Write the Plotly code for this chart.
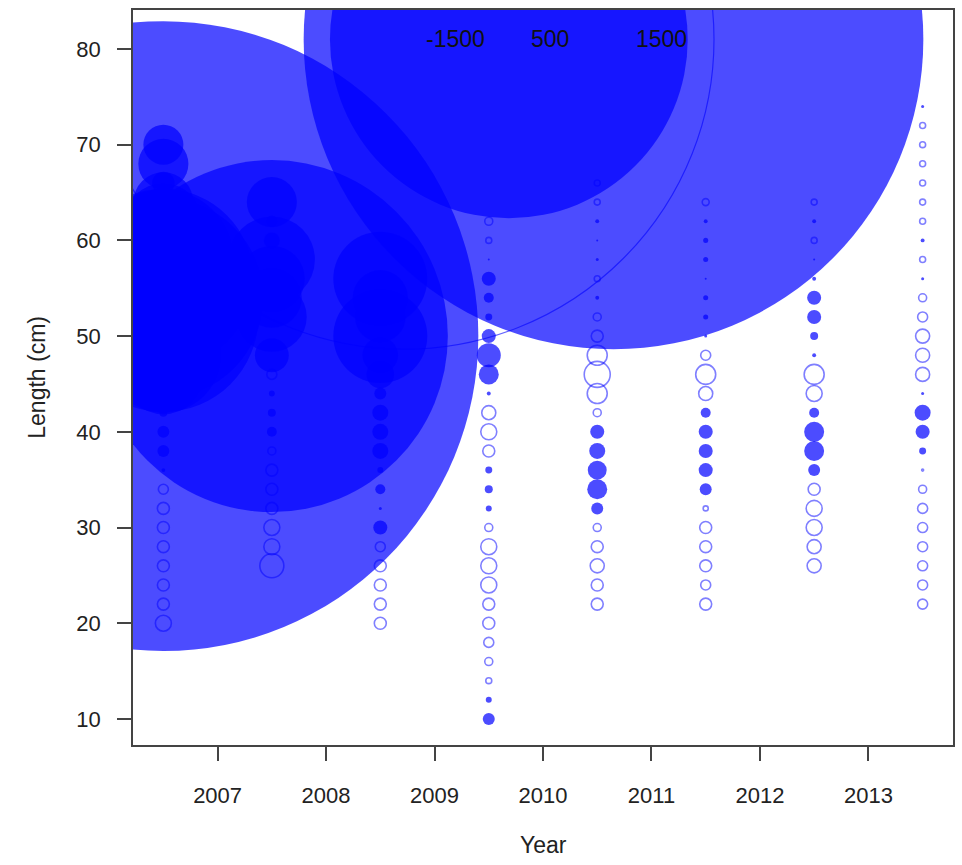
import numpy as np
import plotly.graph_objects as go

# Survey years (plotted at mid-year) and the first length bin sampled in each year
years = [2006.5, 2007.5, 2008.5, 2009.5, 2010.5, 2011.5, 2012.5, 2013.5]
first_length = [20, 26, 20, 10, 22, 22, 26, 22]
bin_width = 2

# Residuals by length bin (ascending length, one bin every 2 cm)
res_2006 = [-1.0, -0.56, -0.56, -0.56, -0.56, -0.56, -0.56, -0.39, 0.06, 0.56, 0.56, 0.25, -1.5,
            25, 52, 1550, 141, 156, 126, 77, 39, 22.6, 14, 2.0, 9.8, 6.25]
res_2007 = [-2.25, -1.0, -1.0, -0.56, -0.56, -0.56, -0.25, 0.39, 0.25, 0.14, -0.39, 4.5,
            484, 19, 14, 17, 29, 1.0, 0.5, 9.8]
res_2008 = [-0.56, -0.56, -0.56, -0.56, -0.39, 0.77, 0.035, 0.39, 0.14, 1.0, 1.0, 1.0, 0.56,
            3.0, 5.0, 34.5, 10, 12, 34.5]
res_2009 = [0.56, 0.14, -0.14, -0.25, -0.39, -0.56, -0.56, -1.0, -1.0, -1.0, -0.25, 0.14, 0.25,
            0.19, -0.56, -1.0, -0.77, 0.06, 1.56, 2.25, 0.77, 0.19, 0.39, 0.77, 0.016, -0.14, -0.25]
res_2010 = [-0.56, -0.56, -0.77, -0.56, -0.25, 0.56, 1.56, 1.4, 1.0, 0.77, -0.25, -1.56, -2.64,
            -1.56, -0.56, -0.25, 0.06, -0.14, 0.035, 0.016, 0.06, -0.14, -0.14]
res_2011 = [-0.56, -0.39, -0.56, -0.56, -0.56, -0.1, 0.56, 0.77, 0.77, 0.77, 0.39, -0.77, -1.56,
            -0.39, 0.035, 0.1, 0.1, 0.016, 0.1, 0.1, 0.06, -0.19]
res_2012 = [-0.77, -0.77, -1.0, -1.0, -0.56, 0.56, 1.56, 1.56, 0.39, -1.0, -1.56, 0.06, 0.25,
            0.77, 0.77, 0.06, 0.016, -0.14, 0.06, -0.14]
res_2013 = [-0.39, -0.39, -0.39, -0.39, -0.39, -0.39, -0.25, -0.016, 0.19, 0.77, 1.0, 0.035,
            -0.77, -0.77, -0.77, -0.39, -0.25, 0.035, -0.14, 0.06, -0.14, -0.14, -0.14, -0.14,
            -0.14, -0.14, 0.035]
residuals = [res_2006, res_2007, res_2008, res_2009, res_2010, res_2011, res_2012, res_2013]

# Bubble legend keys
legend_values = [-1500, 500, 1500]
legend_labels = ["-1500", "500", "1500"]

x_ticks = [2007, 2008, 2009, 2010, 2011, 2012, 2013]
y_ticks = [10, 20, 30, 40, 50, 60, 70, 80]

BUBBLE_PX = 16.0  # diameter in px per sqrt(|residual|)
FILL = "rgba(0,0,255,0.70)"
RING = "rgba(0,0,255,0.50)"
FONT = "Liberation Sans, Arial, Helvetica, sans-serif"


def bubble_size(v):
    return BUBBLE_PX * np.sqrt(np.abs(np.asarray(v, dtype=float)))


xs, ys, vs = [], [], []
for yr, start, res in zip(years, first_length, residuals):
    for i, v in enumerate(res):
        xs.append(yr)
        ys.append(start + bin_width * i)
        vs.append(v)
xs, ys, vs = np.array(xs), np.array(ys), np.array(vs)
pos = vs > 0
neg = ~pos

fig = go.Figure()

# Positive residuals: filled bubbles
fig.add_trace(go.Scatter(
    x=xs[pos], y=ys[pos], mode="markers", cliponaxis=True, hoverinfo="skip",
    marker=dict(size=bubble_size(vs[pos]), sizemode="diameter", color=FILL, opacity=1,
                line=dict(width=0)),
    showlegend=False))

# Negative residuals: open bubbles
fig.add_trace(go.Scatter(
    x=xs[neg], y=ys[neg], mode="markers", cliponaxis=True, hoverinfo="skip",
    marker=dict(size=bubble_size(vs[neg]), sizemode="diameter", color="rgba(0,0,0,0)",
                opacity=1, line=dict(width=1.6, color=RING)),
    showlegend=False))

# Legend keys along the top of the panel
key_x0, key_step, key_y = 2008.72, 0.965, 81.0
key_x = [key_x0 + key_step * i for i in range(len(legend_values))]
for kx, kv, kl in zip(key_x, legend_values, legend_labels):
    if kv > 0:
        mk = dict(size=bubble_size([kv]), sizemode="diameter", color=FILL, opacity=1,
                  line=dict(width=0))
    else:
        mk = dict(size=bubble_size([kv]), sizemode="diameter", color="rgba(0,0,0,0)",
                  opacity=1, line=dict(width=1.2, color="rgba(0,0,255,0.6)"))
    fig.add_trace(go.Scatter(x=[kx], y=[key_y], mode="markers", cliponaxis=True,
                             hoverinfo="skip", marker=mk, showlegend=False))
    fig.add_annotation(x=kx, y=key_y, xref="x", yref="y", text=kl, showarrow=False,
                       xanchor="left", yanchor="middle", xshift=20,
                       font=dict(family=FONT, size=23, color="#111"))

# Axis titles
fig.add_annotation(x=0.5, y=-0.136, xref="paper", yref="paper", text="Year", showarrow=False,
                   xanchor="center", yanchor="middle", font=dict(family=FONT, size=23, color="#222"))
fig.add_annotation(x=-0.118, y=0.5, xref="paper", yref="paper", text="Length (cm)",
                   showarrow=False, textangle=-90, xanchor="center", yanchor="middle",
                   font=dict(family=FONT, size=23, color="#222"))

axis_common = dict(showgrid=False, zeroline=False, showline=True, mirror=True,
                   linecolor="#444", linewidth=1.5, ticks="outside", ticklen=14,
                   tickcolor="#444", tickwidth=1.5,
                   tickfont=dict(family=FONT, size=22, color="#222"))

fig.update_layout(
    width=962, height=865,
    margin=dict(l=133, r=7, t=10, b=120),
    paper_bgcolor="white", plot_bgcolor="white",
    xaxis=dict(range=[2006.22, 2013.78], tickvals=x_ticks,
               ticktext=[str(t) for t in x_ticks], ticklabelstandoff=16, **axis_common),
    yaxis=dict(range=[7.28, 84.07], tickvals=y_ticks,
               ticktext=[str(t) for t in y_ticks], ticklabelstandoff=12, **axis_common),
)

fig.write_html("out.html")
